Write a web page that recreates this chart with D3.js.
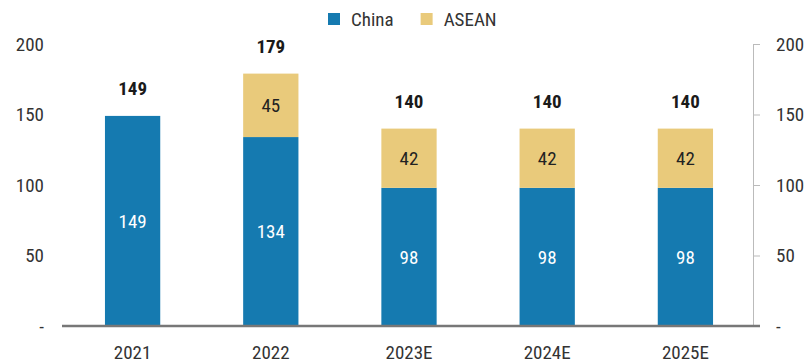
<!DOCTYPE html>
<html>
<head>
<meta charset="utf-8">
<script src="https://cdn.jsdelivr.net/npm/d3@7/dist/d3.min.js"></script>
<style>
  html, body { margin: 0; padding: 0; background: #fff; }
  svg text { font-family: "Liberation Sans Narrow", "Roboto Condensed", "DejaVu Sans Condensed", Roboto, sans-serif; }
</style>
</head>
<body>
<svg id="chart" width="809" height="363"></svg>
<script>
// Capacity by year, split by region
const years = ["2021", "2022", "2023E", "2024E", "2025E"];
const china = [149, 134, 98, 98, 98];
const asean = [0, 45, 42, 42, 42];
const totals = [149, 179, 140, 140, 140];
const yTicks = [0, 50, 100, 150, 200];
const seriesNames = ["China", "ASEAN"];
const colors = ["#157ab0", "#e9ca7b"];

const svg = d3.select("#chart");
const plotLeft = 62, plotRight = 753, plotTop = 44, plotBottom = 326;

const x = d3.scaleBand().domain(years).range([plotLeft + 1.5, plotRight + 1.5]).paddingInner(0.6).paddingOuter(0.3);
const y = d3.scaleLinear().domain([0, 200]).range([plotBottom, plotTop]);

const tickFmt = d => d === 0 ? "-" : d;

// left axis: labels only
const leftAxis = d3.axisLeft(y).tickValues(yTicks).tickSize(0).tickPadding(18).tickFormat(tickFmt);
const gl = svg.append("g").attr("transform", `translate(${plotLeft},0)`).call(leftAxis);
gl.select(".domain").remove();
gl.selectAll("text").attr("font-size", 19).attr("fill", "#333");

// right axis: thin line with short outward ticks
const rightAxis = d3.axisRight(y).tickValues(yTicks).tickSizeInner(7).tickSizeOuter(0).tickPadding(16).tickFormat(tickFmt);
const gr = svg.append("g").attr("transform", `translate(${plotRight},0)`).call(rightAxis);
gr.select(".domain").attr("stroke", "#bbb");
gr.selectAll(".tick line").attr("stroke", "#bbb");
gr.selectAll("text").attr("font-size", 19).attr("fill", "#333");

// stacked bars
const rows = years.map((yr, i) => ({ year: yr, China: china[i], ASEAN: asean[i] }));
const stack = d3.stack().keys(seriesNames)(rows);

const layers = svg.append("g").selectAll("g").data(stack).join("g")
  .attr("fill", (d, i) => colors[i]);

layers.selectAll("rect").data(d => d.filter(p => p[1] - p[0] > 0)).join("rect")
  .attr("x", d => x(d.data.year))
  .attr("width", x.bandwidth())
  .attr("y", d => y(d[1]))
  .attr("height", d => y(d[0]) - y(d[1]));

// segment value labels
layers.each(function (layer, li) {
  d3.select(this).selectAll("text").data(layer.filter(p => p[1] - p[0] > 0)).join("text")
    .attr("x", d => x(d.data.year) + x.bandwidth() / 2)
    .attr("y", d => (y(d[0]) + y(d[1])) / 2)
    .attr("dy", "0.36em")
    .attr("text-anchor", "middle")
    .attr("font-size", 19)
    .attr("fill", li === 0 ? "#fff" : "#222")
    .text(d => d[1] - d[0]);
});

// totals above bars
svg.append("g").selectAll("text").data(years).join("text")
  .attr("x", d => x(d) + x.bandwidth() / 2)
  .attr("y", (d, i) => y(totals[i]) - 21)
  .attr("text-anchor", "middle")
  .attr("font-size", 19)
  .attr("font-weight", "bold")
  .attr("fill", "#1a1a1a")
  .text((d, i) => totals[i]);

// baseline
svg.append("line")
  .attr("x1", plotLeft).attr("x2", plotRight + 7)
  .attr("y1", y(0)).attr("y2", y(0))
  .attr("stroke", "#777").attr("stroke-width", 2.5);

// category axis labels
const xAxis = d3.axisBottom(x).tickSize(0).tickPadding(20);
const gx = svg.append("g").attr("transform", `translate(0,${plotBottom})`).call(xAxis);
gx.select(".domain").remove();
gx.selectAll("text").attr("font-size", 19).attr("fill", "#333");

// legend
const legend = svg.append("g");
let lx = 328;
seriesNames.forEach((name, i) => {
  legend.append("rect").attr("x", lx).attr("y", 13).attr("width", 12).attr("height", 12).attr("fill", colors[i]);
  const t = legend.append("text").attr("x", lx + 23).attr("y", 26)
    .attr("font-size", 19).attr("fill", "#333").text(name);
  lx += 23 + t.node().getComputedTextLength() + 27;
});
</script>
</body>
</html>
